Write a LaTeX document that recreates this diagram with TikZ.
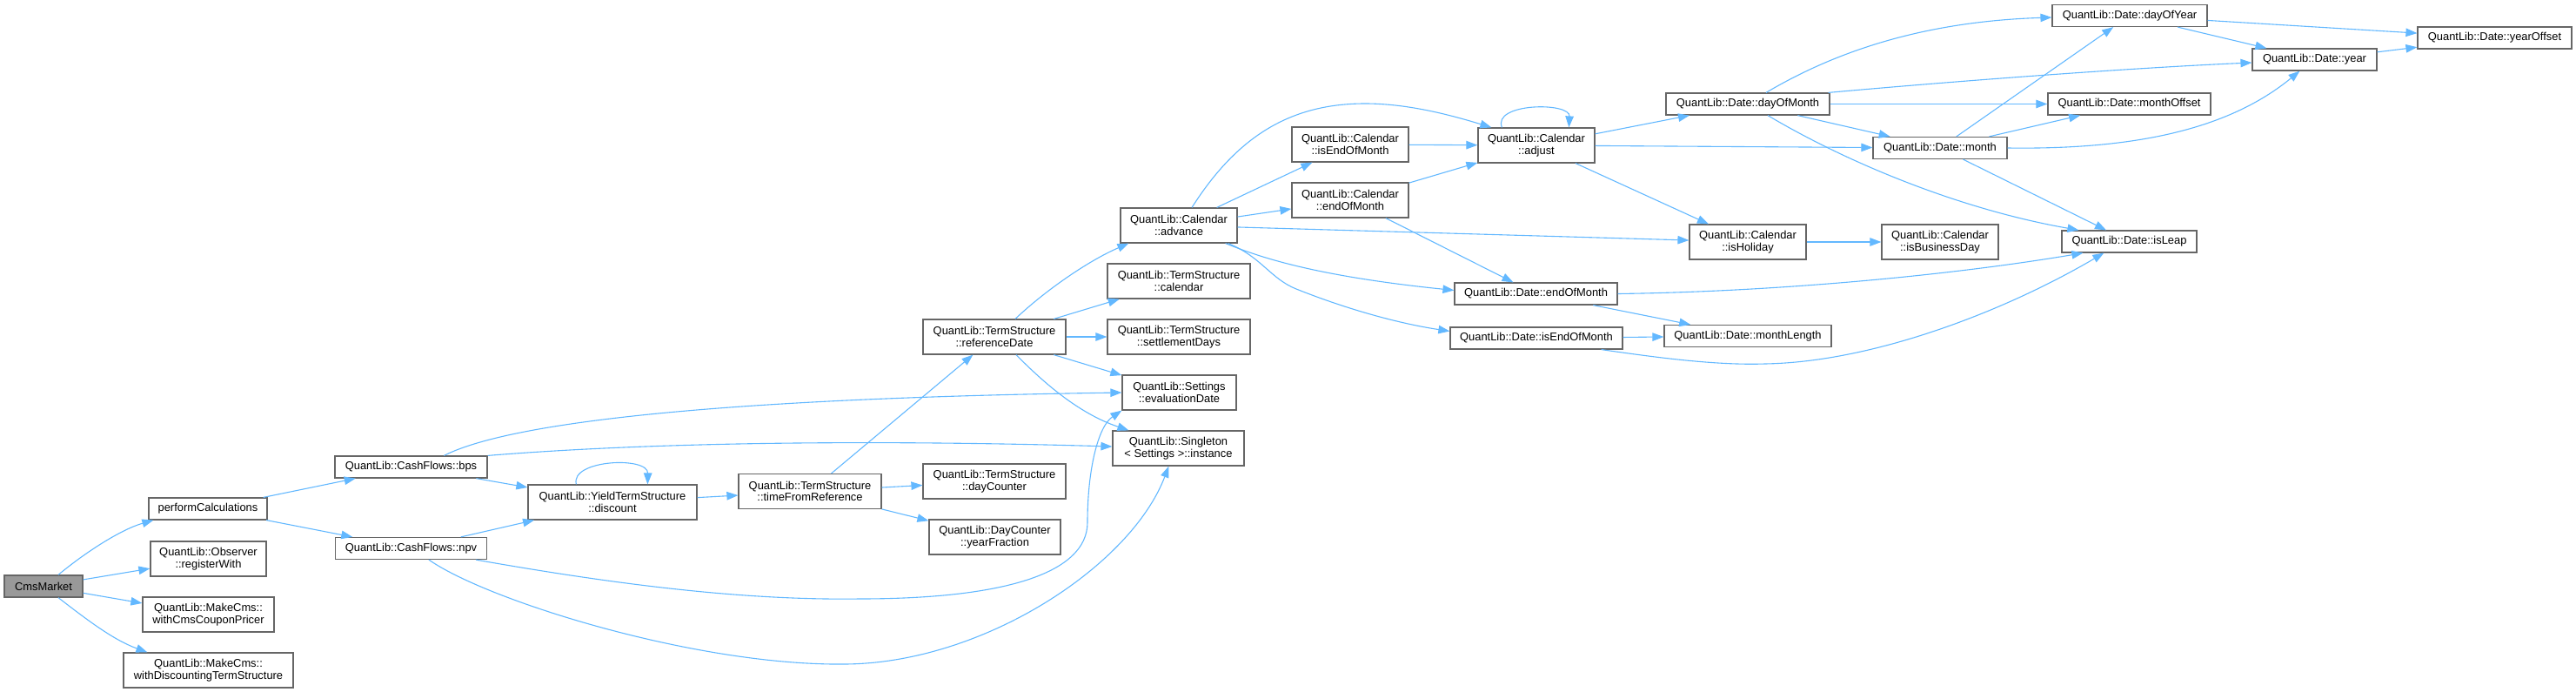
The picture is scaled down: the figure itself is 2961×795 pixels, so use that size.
\documentclass[tikz,border=0pt]{standalone}
\usepackage{fontspec}
\setmainfont{Liberation Sans}
\usetikzlibrary{arrows.meta,calc}
\definecolor{edgeblue}{HTML}{63B8FF}
\definecolor{boxgray}{HTML}{666666}
\definecolor{rootgray}{HTML}{999999}
\begin{document}
\begin{tikzpicture}[x=1pt,y=-1pt,
  nd/.style={draw=boxgray, line width=1.2pt, fill=white, inner sep=0pt, align=center,
    font=\fontsize{12.9}{13.5}\selectfont},
  one/.style={minimum height=25pt},
  two/.style={minimum height=40pt},
  e/.style={draw=edgeblue, line width=1.1pt, -{Triangle[length=13pt,width=9.5pt]}}]
\useasboundingbox (0,0) rectangle (2961,795);
% nodes
\node[nd,one,minimum width=90pt,fill=rootgray] (cms) at (50,673.5) {CmsMarket};
\node[nd,one,minimum width=136pt] (perf) at (239,584.5) {performCalculations};
\node[nd,two,minimum width=133pt] (regw) at (239.5,642) {QuantLib::Observer\\::registerWith};
\node[nd,two,minimum width=151pt] (wccp) at (239.5,706) {QuantLib::MakeCms::\\withCmsCouponPricer};
\node[nd,two,minimum width=195pt] (wdts) at (239.5,770) {QuantLib::MakeCms::\\withDiscountingTermStructure};
\node[nd,one,minimum width=175pt] (bps) at (472.5,536.5) {QuantLib::CashFlows::bps};
\node[nd,one,minimum width=174pt] (npv) at (472.5,630) {QuantLib::CashFlows::npv};
\node[nd,two,minimum width=194pt] (disc) at (704,577) {QuantLib::YieldTermStructure\\::discount};
\node[nd,two,minimum width=164pt] (tfr) at (931,564.5) {QuantLib::TermStructure\\::timeFromReference};
\node[nd,two,minimum width=164pt] (refd) at (1143,387) {QuantLib::TermStructure\\::referenceDate};
\node[nd,two,minimum width=164pt] (dcnt) at (1143,553) {QuantLib::TermStructure\\::dayCounter};
\node[nd,two,minimum width=151pt] (yfr) at (1143.5,617) {QuantLib::DayCounter\\::yearFraction};
\node[nd,two,minimum width=134pt] (adv) at (1355,259) {QuantLib::Calendar\\::advance};
\node[nd,two,minimum width=164pt] (tcal) at (1355,323) {QuantLib::TermStructure\\::calendar};
\node[nd,two,minimum width=164pt] (sdays) at (1355,387) {QuantLib::TermStructure\\::settlementDays};
\node[nd,two,minimum width=131pt] (evd) at (1355.5,451) {QuantLib::Settings\\::evaluationDate};
\node[nd,two,minimum width=151pt] (inst) at (1354.5,515) {QuantLib::Singleton\\< Settings >::instance};
\node[nd,two,minimum width=134pt] (ceom) at (1552,166) {QuantLib::Calendar\\::isEndOfMonth};
\node[nd,two,minimum width=134pt] (cendm) at (1552,230) {QuantLib::Calendar\\::endOfMonth};
\node[nd,two,minimum width=134pt] (adj) at (1766,167) {QuantLib::Calendar\\::adjust};
\node[nd,one,minimum width=187pt] (dendm) at (1765.5,337.5) {QuantLib::Date::endOfMonth};
\node[nd,one,minimum width=198pt] (dieom) at (1766,388.5) {QuantLib::Date::isEndOfMonth};
\node[nd,one,minimum width=188pt] (dom) at (2009,119.5) {QuantLib::Date::dayOfMonth};
\node[nd,two,minimum width=134pt] (hol) at (2009,278) {QuantLib::Calendar\\::isHoliday};
\node[nd,one,minimum width=192pt] (mlen) at (2009,386) {QuantLib::Date::monthLength};
\node[nd,one,minimum width=154pt] (mon) at (2230,170) {QuantLib::Date::month};
\node[nd,two,minimum width=134pt] (bday) at (2230,278) {QuantLib::Calendar\\::isBusinessDay};
\node[nd,one,minimum width=178pt] (doy) at (2448,18) {QuantLib::Date::dayOfYear};
\node[nd,one,minimum width=187pt] (moff) at (2447.5,119.5) {QuantLib::Date::monthOffset};
\node[nd,one,minimum width=155pt] (leap) at (2447.5,277.5) {QuantLib::Date::isLeap};
\node[nd,one,minimum width=143pt] (year) at (2660.5,68.5) {QuantLib::Date::year};
\node[nd,one,minimum width=177pt] (yoff) at (2867.5,43.5) {QuantLib::Date::yearOffset};
% edges
\draw[e] ($(cms.north)+(17,0)$) .. controls (100,633) and (140,608) .. ($(perf.south west)+(6,0)$);
\draw[e] (cms) -- (regw);
\draw[e] (cms) -- (wccp);
\draw[e] ($(cms.south)+(17,0)$) .. controls (100,712) and (130,735) .. ($(wdts.north west)+(28,0)$);
\draw[e] (perf) -- (bps);
\draw[e] (perf) -- (npv);
\draw[e] (bps) -- (disc);
\draw[e] (npv) -- (disc);
\draw[e] ($(disc.north west)+(56,0)$) .. controls (655,528) and (745,524) .. ($(disc.north west)+(138,0)$);
\draw[e] (disc) -- (tfr);
\draw[e] ($(bps.north west)+(126,0)$) .. controls (580,488) and (800,458) .. (evd.west);
\draw[e] (bps.north east) .. controls (750,508) and (1000,505) .. ($(inst.west)+(0,-2)$);
\draw[e] ($(npv.south east)+(-13,0)$) .. controls (700,670) and (850,690) .. (988,688)
   .. controls (1150,688) and (1250,660) .. (1250,600)
   .. controls (1250,540) and (1262,490) .. (evd.south west);
\draw[e] ($(npv.south)+(20.5,0)$) .. controls (560,690) and (800,765) .. (971,763)
   .. controls (1130,762) and (1300,650) .. ($(inst.south west)+(65,0)$);
\draw[e] (tfr) -- (refd);
\draw[e] (tfr) -- (dcnt);
\draw[e] (tfr) -- (yfr);
\draw[e] ($(refd.north)+(24,0)$) .. controls (1200,335) and (1250,300) .. ($(adv.south west)+(10,0)$);
\draw[e] (refd) -- (tcal);
\draw[e] (refd) -- (sdays);
\draw[e] (refd) -- (evd);
\draw[e] ($(refd.south)+(25,0)$) .. controls (1200,440) and (1240,475) .. ($(inst.north west)+(19,0)$);
\draw[e] (adv) -- (ceom);
\draw[e] (adv) -- (cendm);
\draw[e] ($(adv.north)+(15,0)$) .. controls (1420,160) and (1480,119) .. (1569,119)
   .. controls (1620,119) and (1670,133) .. ($(adj.north west)+(16,0)$);
\draw[e] (adv) -- (hol);
\draw[e] ($(adv.south east)+(-14,0)$) .. controls (1440,292) and (1500,316) .. ($(dendm.west)+(0,-4)$);
\draw[e] ($(adv.south east)+(-11,0)$) .. controls (1450,295) and (1460,320) .. (1490,332)
   .. controls (1550,356) and (1610,372) .. ($(dieom.west)+(0,-8)$);
\draw[e] (ceom) -- (adj);
\draw[e] (cendm) -- (adj);
\draw[e] (cendm) -- (dendm);
\draw[e] ($(adj.north west)+(28,0)$) .. controls (1715,118) and (1805,117) .. ($(adj.north west)+(105,0)$);
\draw[e] (adj) -- (dom);
\draw[e] (adj) -- (mon);
\draw[e] (adj) -- (hol);
\draw[e] (dendm) -- (mlen);
\draw[e] (dendm.east) .. controls (2050,335) and (2250,315) .. ($(leap.south west)+(25,0)$);
\draw[e] (dieom) -- (mlen);
\draw[e] ($(dieom.south east)+(-25,0)$) .. controls (1900,410) and (1970,420) .. (2029,418)
   .. controls (2150,416) and (2300,360) .. ($(leap.south west)+(49,0)$);
\draw[e] ($(dom.north)+(21,0)$) .. controls (2100,65) and (2200,25) .. ($(doy.west)+(0,2)$);
\draw[e] ($(dom.north east)+(-2,0)$) .. controls (2250,93) and (2450,78) .. ($(year.west)+(0,3.5)$);
\draw[e] (dom) -- (moff);
\draw[e] (dom) -- (mon);
\draw[e] ($(dom.south)+(23,0)$) .. controls (2120,185) and (2250,240) .. ($(leap.north west)+(20,0)$);
\draw[e] (mon) -- (doy);
\draw[e] (mon) -- (moff);
\draw[e] (mon.east) .. controls (2450,172) and (2560,150) .. ($(year.south west)+(55,0)$);
\draw[e] (mon) -- (leap);
\draw[e] (hol) -- (bday);
\draw[e] (doy) -- (yoff);
\draw[e] (doy) -- (year);
\draw[e] (year) -- (yoff);
\end{tikzpicture}
\end{document}
